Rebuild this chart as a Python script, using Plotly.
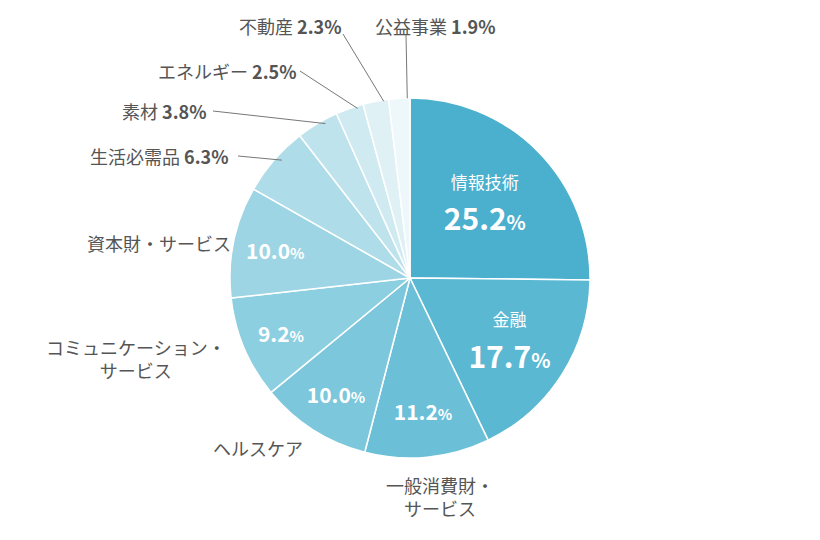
import math
import plotly.graph_objects as go

names = ["情報技術", "金融", "一般消費財・<br>サービス", "ヘルスケア", "コミュニケーション・<br>サービス",
         "資本財・サービス", "生活必需品", "素材", "エネルギー", "不動産", "公益事業"]
values = [25.2, 17.7, 11.2, 10.0, 9.2, 10.0, 6.3, 3.8, 2.5, 2.3, 1.9]
colors = ["#4BAFCE", "#5BB8D3", "#6BC0D8", "#7CC7DC", "#8CCFE0", "#9DD5E4",
          "#AEDCE8", "#BFE3EC", "#CFEAF1", "#DFF1F5", "#EEF8FA"]

W, H = 820, 540
cx, cy, R = 410, 270, 180
off = 8  # plotly renders slightly right of domain centre

def pct(v, big):
    s = f"{v:.1f}"
    if big:
        return f"<b><span style='font-size:30px'>{s}</span><span style='font-size:20px'>%</span></b>"
    return f"<b><span style='font-size:21px'>{s}</span><span style='font-size:15px'>%</span></b>"

texts = []
for i, (n, v) in enumerate(zip(names, values)):
    if i < 2:
        texts.append(f"<span style='font-size:17px'>{n}</span><br> <br>" + pct(v, True))
    elif i < 6:
        texts.append(pct(v, False))
    else:
        texts.append("")

fig = go.Figure(go.Pie(
    values=values, labels=names, text=texts, textinfo="text", sort=False,
    direction="clockwise", rotation=0, marker=dict(colors=colors, line=dict(color="white", width=1.5)),
    textposition="inside", insidetextorientation="horizontal",
    textfont=dict(color="white", family="Noto Sans CJK JP", size=16), hoverinfo="label+value",
    domain=dict(x=[(cx - R - off) / W, (cx + R - off) / W], y=[(H - cy - R) / H, (H - cy + R) / H]),
))

label_pos = {
    2: (432, 488, "center", None),
    3: (250, 440, "center", None),
    4: (128, 350, "center", None),
    5: (225, 235, "right", None),
    6: (222, 148, "right", 230),
    7: (200, 103, "right", 205),
    8: (290, 63, "right", 292),
    9: (335, 18, "right", 335),
    10: (365, 18, "left", 398),
}
total = sum(values)
cum = 0
anns, shapes = [], []
for i, v in enumerate(values):
    mid = (cum + v / 2) / total * 2 * math.pi
    cum += v
    if i not in label_pos:
        continue
    x, y, anchor, lx = label_pos[i]
    txt = f"{names[i]} <b>{v:.1f}%</b>" if i >= 6 else names[i]
    anns.append(dict(x=x / W, y=1 - y / H, xref="paper", yref="paper", text=txt, showarrow=False,
                     xanchor=anchor, yanchor="middle", align="center",
                     font=dict(size=18, color="#555555", family="Noto Sans CJK JP")))
    if lx is not None:
        sx = cx + R * math.sin(mid)
        sy = cy - R * math.cos(mid)
        ly = y + (8 if i >= 9 else 0)
        shapes.append(dict(type="line", xref="paper", yref="paper", x0=sx / W, y0=1 - sy / H,
                           x1=lx / W, y1=1 - ly / H, line=dict(color="#777777", width=1)))

fig.update_layout(width=W, height=H, margin=dict(l=0, r=0, t=0, b=0), showlegend=False,
                  paper_bgcolor="white", annotations=anns, shapes=shapes,
                  font=dict(family="Noto Sans CJK JP"))
fig.write_html("out.html")
